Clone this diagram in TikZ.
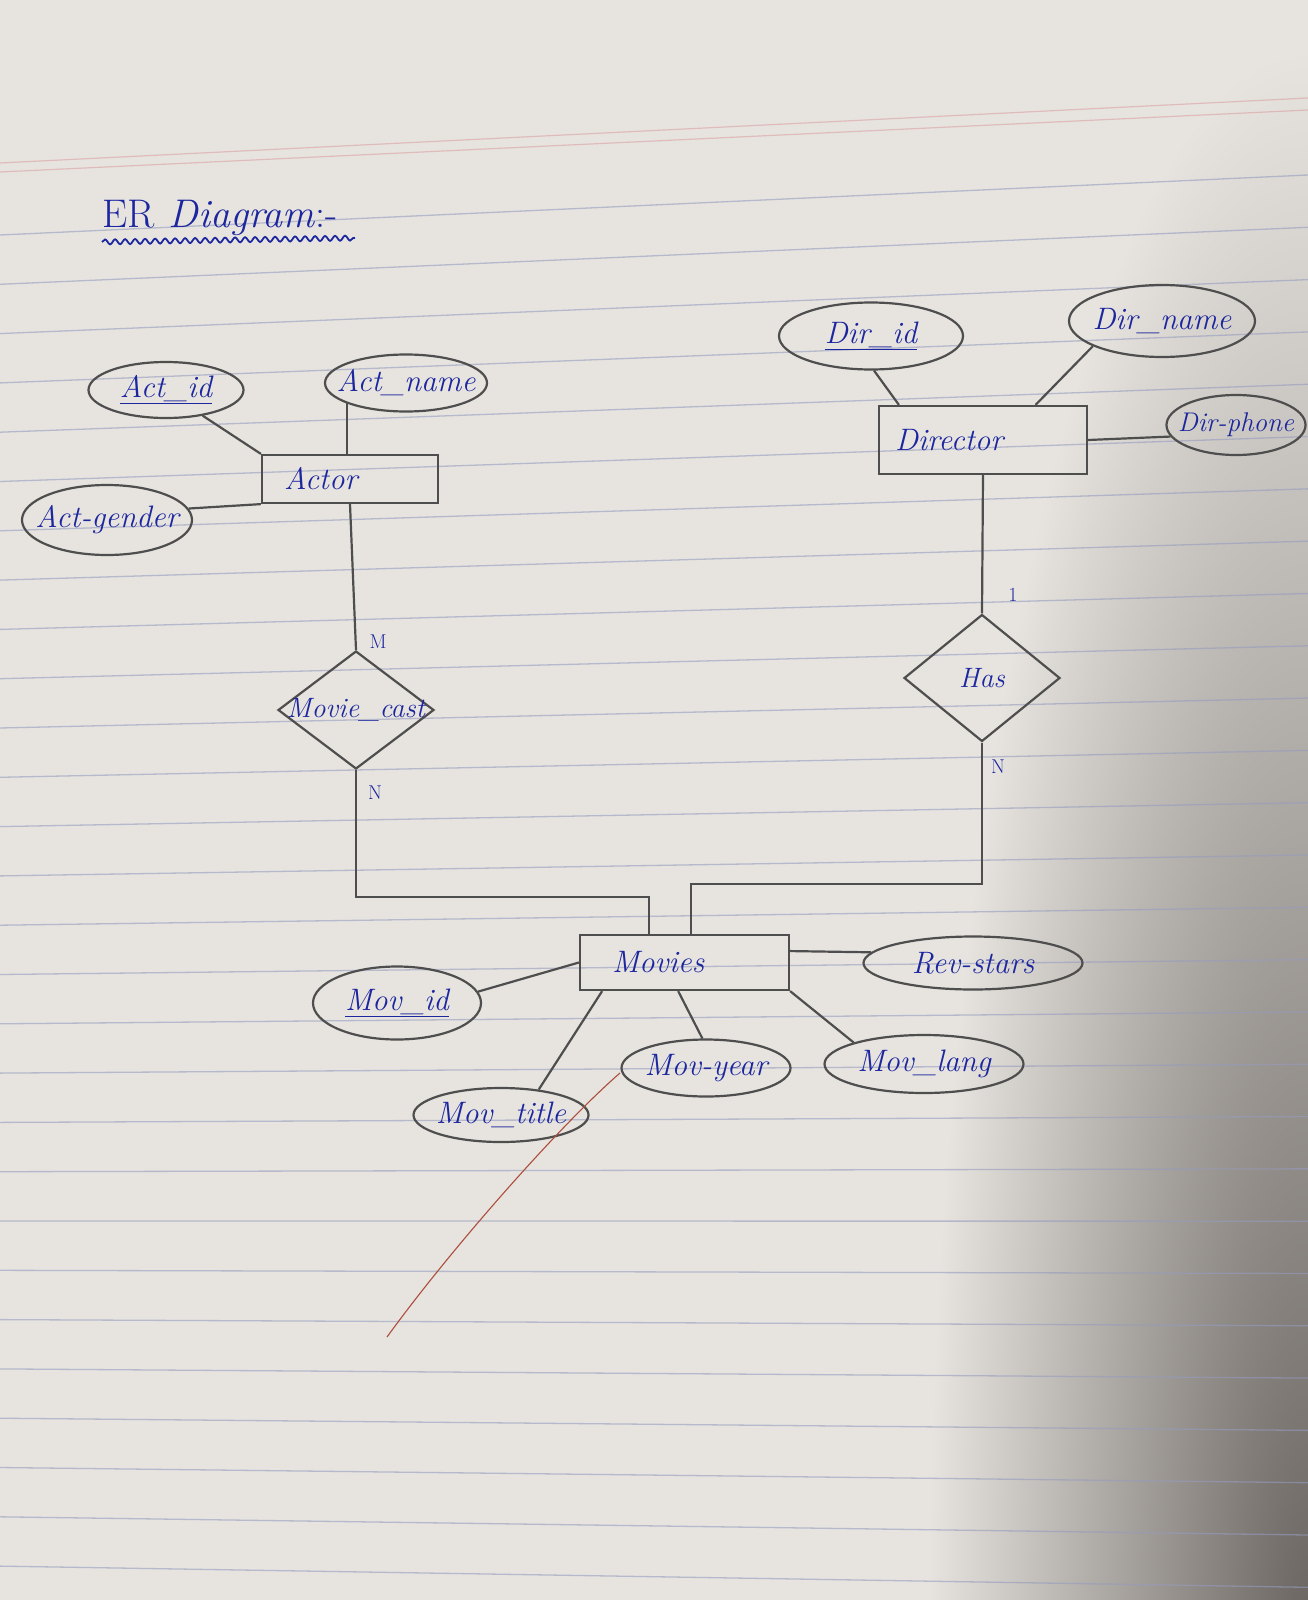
\documentclass[tikz,border=0pt]{standalone}
\usetikzlibrary{shapes.geometric,decorations.pathmorphing,calc}
\definecolor{paper}{RGB}{231,228,223}
\definecolor{shadowc}{RGB}{105,100,96}
\definecolor{rulec}{RGB}{150,155,190}
\definecolor{pinkc}{RGB}{220,160,165}
\definecolor{ink}{RGB}{28,38,158}
\definecolor{pencil}{RGB}{78,78,78}
\definecolor{redpen}{RGB}{172,78,60}
\tikzset{
  inktext/.style={text=ink, font=\fontsize{31}{35}\selectfont\itshape},
  attr/.style={inktext, ellipse, draw=pencil, line width=2.2pt, inner xsep=-14pt, inner ysep=-4pt},
  entity/.style={inktext, rectangle, draw=pencil, line width=2.2pt, inner ysep=0pt, align=left},
  rel/.style={inktext, font=\fontsize{28}{32}\selectfont\itshape, diamond, draw=pencil, line width=2.2pt, inner xsep=-20pt, inner ysep=-8pt, aspect=1},
  card/.style={text=ink, font=\fontsize{20}{24}\selectfont},
  link/.style={draw=pencil, line width=2.2pt},
  ruling/.style={draw=rulec, line width=1.3pt, opacity=0.6},
}
\begin{document}
\begin{tikzpicture}[x=1pt,y=-1pt]
\useasboundingbox (0,0) rectangle (1308,1600);
% paper
\fill[paper] (0,0) rectangle (1308,1600);
\begin{scope}
  \clip (0,0) rectangle (1308,1600);
  \shade[inner color=shadowc, outer color=paper] (1308,1650) ellipse [x radius=380, y radius=1600];
\end{scope}
\foreach \k in {0,...,27}{
  \pgfmathsetmacro{\yl}{235+49.3*\k}
  \pgfmathsetmacro{\yr}{\yl-60+0.061*(\yl-235)}
  \draw[ruling] (0,\yl) -- (1308,\yr);
}
\draw[pinkc, line width=1.2pt, opacity=0.6] (0,163) -- (1308,98);
\draw[pinkc, line width=1.2pt, opacity=0.6] (0,172) -- (1308,110);

% title
\node[anchor=base west, text=ink, font=\fontsize{40}{46}\selectfont, inner sep=0pt] (title) at (102,227) {ER\hspace{14pt}\textit{Diagram}:-};
\coordinate (u1) at (102,242);
\coordinate (u2) at (355,238);
\draw[ink, line width=1.8pt, decorate, decoration={snake, amplitude=2.5pt, segment length=10pt}] (u1) -- (u2);

% Actor side
\node[attr, minimum width=155pt, minimum height=56pt] (actid) at (166,390) {\underline{Act\_id}};
\node[attr, minimum width=162pt, minimum height=57pt] (actname) at (406,383) {Act\_name};
\node[attr, minimum width=170pt, minimum height=70pt] (actgender) at (107,520) {Act-gender};
\node[entity, minimum height=48pt, inner xsep=22pt, text width=132pt] (actor) at (350,479) {Actor};
\node[rel, minimum width=156pt, minimum height=118pt] (mc) at (356,710) {Movie\_cast};
\node[card] (cm) at (378,642) {M};
\node[card] (cn1) at (375,793) {N};

% Director side
\node[attr, minimum width=184pt, minimum height=67pt] (dirid) at (871,336) {\underline{Dir\_id}};
\node[attr, minimum width=186pt, minimum height=72pt] (dirname) at (1162,321) {Dir\_name};
\node[attr, font=\fontsize{27}{31}\selectfont\itshape, minimum width=139pt, minimum height=60pt, inner xsep=-24pt] (dirphone) at (1236,425) {Dir-phone};
\node[entity, minimum height=68pt, inner xsep=16pt, text width=176pt] (director) at (983,440) {Director};
\node[rel, minimum width=156pt, minimum height=127pt] (has) at (982,678) {Has};
\node[card] (c1) at (1013,595) {1};
\node[card] (cn2) at (998,767) {N};

% Movies
\node[entity, minimum height=55pt, inner xsep=32pt, text width=145pt] (movies) at (684.5,962.5) {Movies};
\node[attr, minimum width=219pt, minimum height=53pt] (revstars) at (973,963) {Rev-stars};
\node[attr, minimum width=168pt, minimum height=73pt] (movid) at (397,1003) {\underline{Mov\_id}};
\node[attr, minimum width=175pt, minimum height=54pt] (movtitle) at (501,1115) {Mov\_title};
\node[attr, minimum width=169pt, minimum height=57pt] (movyear) at (706,1068) {Mov-year};
\node[attr, minimum width=199pt, minimum height=58pt] (movlang) at (924,1064) {Mov\_lang};

% connectors
\draw[link] (actid.-35) -- (actor.north west);
\draw[link] (actname.199) -- (actname.199 |- actor.north);
\draw[link] (actgender.8) -- (actor.south west);
\draw[link] (actor.south) -- (mc.north);
\coordinate (jL) at (649,897);
\draw[link] (mc.south) |- (jL) -- (jL |- movies.north);

\draw[link] (dirid.-85) -- ($(director.north west)!0.1!(director.north east)$);
\draw[link] (dirname.200) -- ($(director.north west)!0.75!(director.north east)$);
\draw[link] (director.east) -- (dirphone.190);
\draw[link] (director.south) -- (has.north);
\coordinate (jR) at (691,884);
\draw[link] (has.south) |- (jR) -- (jR |- movies.north);

\draw[link] ($(movies.north east)!0.3!(movies.south east)$) -- (revstars.174);
\draw[link] (movid.8) -- (movies.west);
\draw[link] ($(movies.south west)!0.11!(movies.south east)$) -- (movtitle.34);
\draw[link] ($(movies.south west)!0.47!(movies.south east)$) -- (movyear.97);
\draw[link] (movies.south east) -- (movlang.163);

% stray red pen stroke
\draw[redpen, line width=1.1pt] (620,1073) .. controls (560,1125) and (450,1250) .. (387,1337);
\end{tikzpicture}
\end{document}
